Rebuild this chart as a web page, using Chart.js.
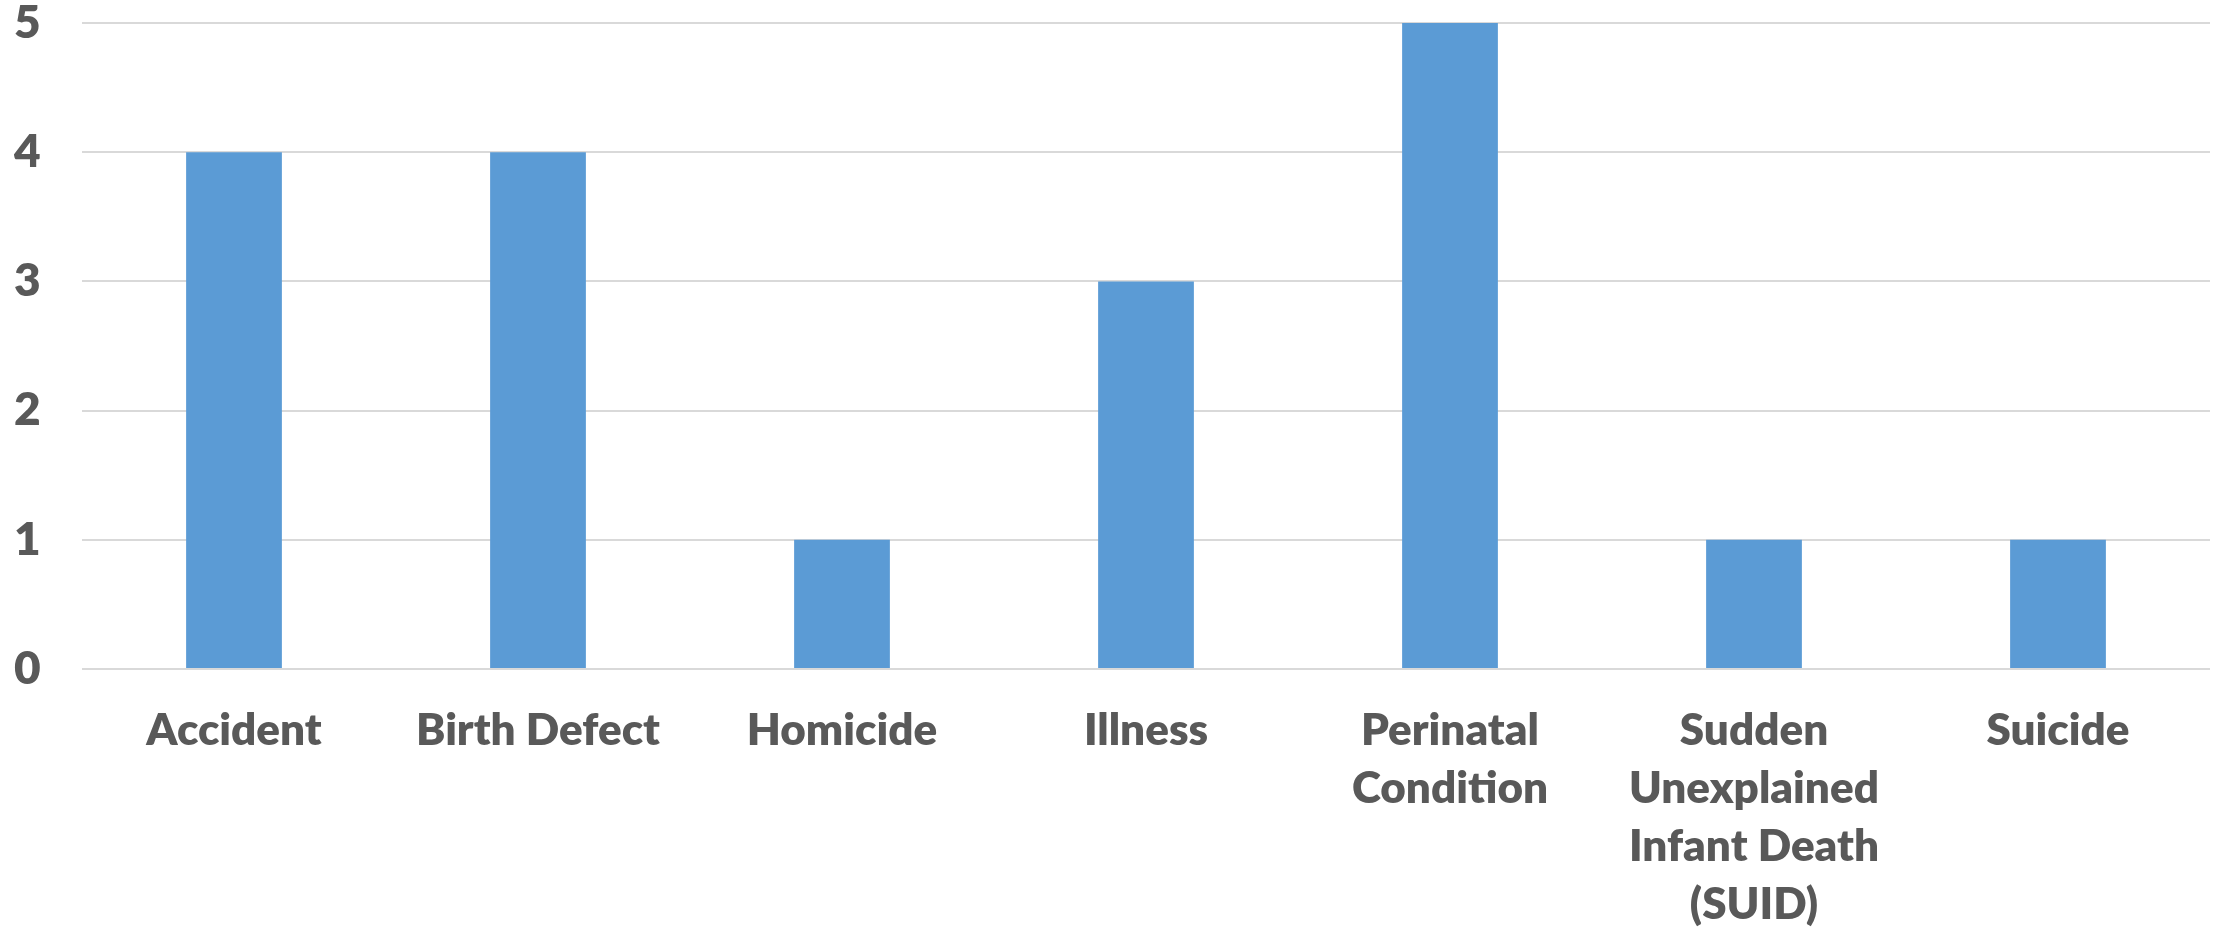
<!DOCTYPE html>
<html>
<head>
<meta charset="utf-8">
<script src="https://cdn.jsdelivr.net/npm/chart.js@4/dist/chart.umd.min.js"></script>
<style>
  html, body { margin: 0; padding: 0; background: #fff; }
  #chartCanvas { display: block; }
</style>
</head>
<body>
<canvas id="chartCanvas" width="2219" height="929"></canvas>
<script>
const categories = [
  'Accident',
  'Birth Defect',
  'Homicide',
  'Illness',
  ['Perinatal', 'Condition'],
  ['Sudden', 'Unexplained', 'Infant Death', '(SUID)'],
  'Suicide'
];
const deaths = [4, 4, 1, 3, 5, 1, 1];
const yTicks = [0, 1, 2, 3, 4, 5];

const textColor = '#595959';
const fontFamily = 'Lato, "Open Sans", sans-serif';

const chartCanvas = document.getElementById('chartCanvas');

new Chart(chartCanvas, {
  type: 'bar',
  data: {
    labels: categories,
    datasets: [{
      label: 'Deaths',
      data: deaths,
      backgroundColor: '#5B9BD5',
      borderWidth: 0,
      categoryPercentage: 1,
      barPercentage: 0.315
    }]
  },
  options: {
    responsive: false,
    animation: false,
    devicePixelRatio: 1,
    layout: { padding: { top: 23, right: 9, bottom: 0, left: 14 }, autoPadding: false },
    plugins: {
      legend: { display: false },
      tooltip: { enabled: false }
    },
    scales: {
      x: {
        grid: { display: false, drawTicks: false },
        border: { display: false },
        afterFit: scale => { scale.height = 260; },
        ticks: {
          color: textColor,
          padding: 33,
          maxRotation: 0,
          autoSkip: false,
          font: { family: fontFamily, size: 44, weight: 800, lineHeight: 1.32 }
        }
      },
      y: {
        min: 0,
        max: 5,
        afterBuildTicks: axis => {
          axis.ticks = yTicks.map(v => ({ value: v }));
        },
        afterFit: scale => { scale.width = 68; },
        grid: { color: '#D9D9D9', lineWidth: 2, drawTicks: false },
        border: { display: false },
        ticks: {
          color: textColor,
          padding: 0,
          crossAlign: 'far',
          font: { family: fontFamily, size: 46, weight: 800, lineHeight: 0.4 }
        }
      }
    }
  }
});
</script>
</body>
</html>
